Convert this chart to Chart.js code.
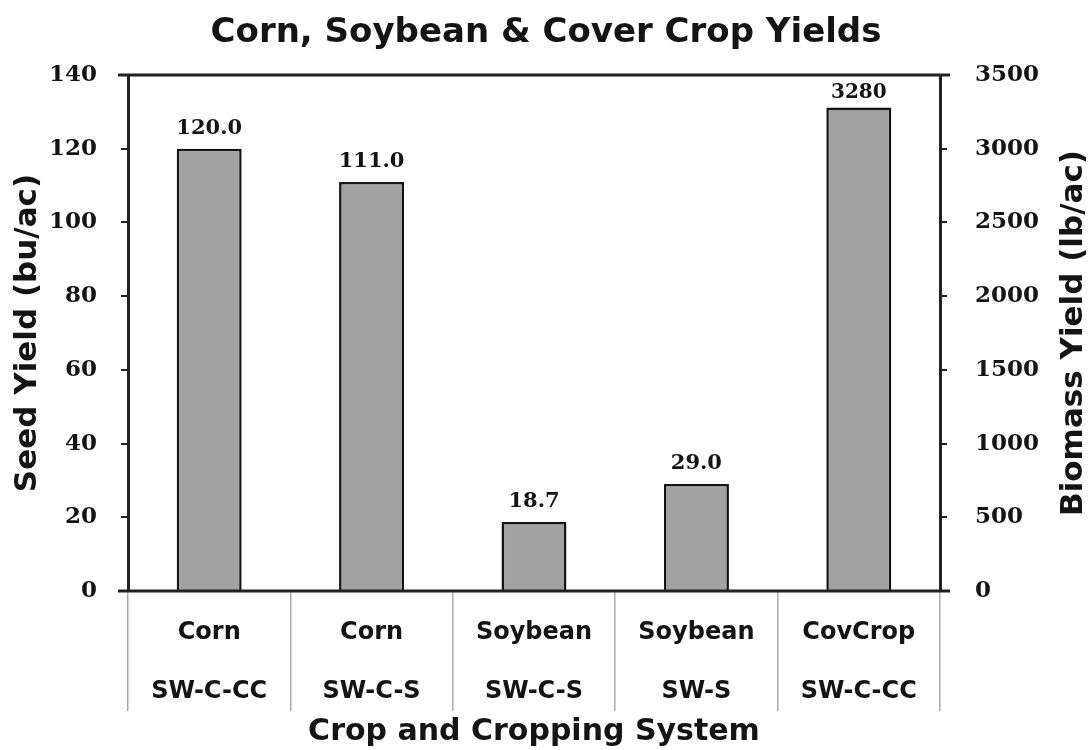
<!DOCTYPE html>
<html lang="en">
<head>
<meta charset="UTF-8">
<title>Corn, Soybean &amp; Cover Crop Yields</title>
<style>
    body { margin: 0; background: #fff; }
    canvas { display: block; }
</style>
</head>
<body>
<canvas id="yieldChart" width="1092" height="750"></canvas>

<script src="https://cdn.jsdelivr.net/npm/chart.js"></script>
<script>
    // categories (two label rows) and values
    const crops = ['Corn', 'Corn', 'Soybean', 'Soybean', 'CovCrop'];
    const systems = ['SW-C-CC', 'SW-C-S', 'SW-C-S', 'SW-S', 'SW-C-CC'];
    const seedYield = [120.0, 111.0, 18.7, 29.0, null];      // bu/ac, left axis
    const biomassYield = [null, null, null, null, 3280];      // lb/ac, right axis

    const sans = '"DejaVu Sans", sans-serif';
    const serif = '"DejaVu Serif", serif';
    const ink = '#141414';

    // value labels above bars
    const valueLabels = {
        id: 'valueLabels',
        afterDatasetsDraw(chart) {
            const ctx = chart.ctx;
            ctx.save();
            ctx.fillStyle = ink;
            ctx.textAlign = 'center';
            ctx.textBaseline = 'bottom';
            chart.data.datasets.forEach((ds, i) => {
                chart.getDatasetMeta(i).data.forEach((bar, j) => {
                    const v = ds.data[j];
                    if (v == null) return;
                    ctx.font = ds.labelFont;
                    ctx.fillText(ds.fmt(v), bar.x, bar.y - ds.labelGap);
                });
            });
            ctx.restore();
        }
    };

    // top border of the plot box and the right title (reads bottom to top)
    const frame = {
        id: 'frame',
        afterDraw(chart) {
            const { ctx, chartArea } = chart;
            ctx.save();
            ctx.strokeStyle = '#222';
            ctx.lineWidth = 3;
            ctx.beginPath();
            ctx.moveTo(chartArea.left - 10, chartArea.top);
            ctx.lineTo(chartArea.right + 10, chartArea.top);
            ctx.moveTo(chartArea.left - 10, chartArea.bottom);
            ctx.lineTo(chartArea.right + 10, chartArea.bottom);
            ctx.stroke();

            const yr = chart.scales.y2;
            ctx.translate(yr.right - 18, (chartArea.top + chartArea.bottom) / 2);
            ctx.rotate(-Math.PI / 2);
            ctx.font = 'bold 31px ' + sans;
            ctx.fillStyle = ink;
            ctx.textAlign = 'center';
            ctx.textBaseline = 'middle';
            ctx.fillText('Biomass Yield (lb/ac)', 0, 0);
            ctx.restore();
        }
    };

    const ctx = document.getElementById('yieldChart').getContext('2d');
    new Chart(ctx, {
        type: 'bar',
        data: {
            labels: crops.map((c, i) => [c, systems[i]]),
            datasets: [
                {
                    label: 'Seed Yield',
                    data: seedYield,
                    yAxisID: 'y',
                    backgroundColor: '#a2a2a2',
                    borderColor: '#141414',
                    borderWidth: 2.5,
                    fmt: v => v.toFixed(1),
                    labelFont: 'bold 21px ' + serif,
                    labelGap: 10
                },
                {
                    label: 'Biomass Yield',
                    data: biomassYield,
                    yAxisID: 'y2',
                    backgroundColor: '#a2a2a2',
                    borderColor: '#141414',
                    borderWidth: 2.5,
                    fmt: v => String(v),
                    labelFont: 'bold 20px ' + serif,
                    labelGap: 5
                }
            ]
        },
        options: {
            responsive: false,
            animation: false,
            layout: { padding: 0 },
            datasets: {
                bar: { grouped: false, barPercentage: 0.4, categoryPercentage: 1 }
            },
            plugins: {
                legend: { display: false },
                tooltip: { enabled: false },
                title: {
                    display: true,
                    text: 'Corn, Soybean & Cover Crop Yields',
                    color: ink,
                    font: { family: sans, size: 34, weight: 'bold', lineHeight: 1.2 },
                    padding: { top: 13, bottom: 21.2 }
                }
            },
            scales: {
                x: {
                    afterFit: s => { s.height = 159; },
                    border: { color: '#333', width: 2 },
                    grid: { offset: true, drawOnChartArea: false, tickLength: 120, color: '#aaa', lineWidth: 1.5 },
                    ticks: {
                        color: ink,
                        padding: -107.5,
                        maxRotation: 0,
                        font: { family: sans, size: 24, weight: 'bold', lineHeight: '59px' }
                    },
                    title: {
                        display: true,
                        text: 'Crop and Cropping System',
                        color: ink,
                        font: { family: sans, size: 30, weight: 'bold', lineHeight: 1.2 },
                        padding: { top: 0, bottom: 0 }
                    }
                },
                y: {
                    position: 'left',
                    min: 0,
                    max: 140,
                    afterFit: s => { s.width = 128; },
                    border: { color: '#222', width: 3 },
                    grid: { drawOnChartArea: false, tickLength: 7, color: '#222', lineWidth: 2 },
                    ticks: {
                        stepSize: 20,
                        padding: 24,
                        color: ink,
                        font: { family: serif, size: 23, weight: 'bold' }
                    },
                    title: {
                        display: true,
                        text: 'Seed Yield (bu/ac)',
                        color: ink,
                        font: { family: sans, size: 31, weight: 'bold', lineHeight: 1.2 },
                        padding: { top: 9, bottom: 0 }
                    }
                },
                y2: {
                    position: 'right',
                    min: 0,
                    max: 3500,
                    afterFit: s => { s.width = 152; },
                    border: { color: '#222', width: 3 },
                    grid: { drawOnChartArea: false, tickLength: 7, color: '#222', lineWidth: 2 },
                    ticks: {
                        stepSize: 500,
                        padding: 28,
                        color: ink,
                        callback: v => String(v),
                        font: { family: serif, size: 23, weight: 'bold' }
                    }
                }
            }
        },
        plugins: [valueLabels, frame]
    });
</script>
</body>
</html>
